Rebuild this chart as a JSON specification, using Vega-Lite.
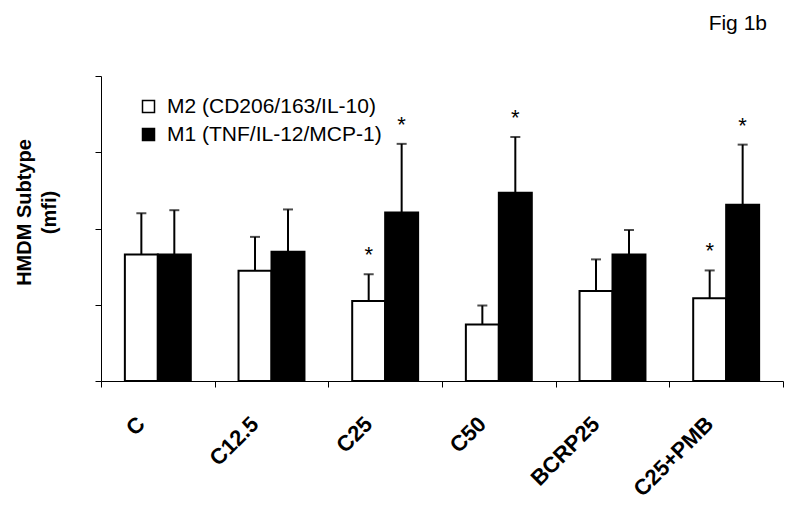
{
  "$schema": "https://vega.github.io/schema/vega-lite/v6.json",
  "width": 682,
  "height": 305,
  "autosize": "none",
  "padding": {"left": 101, "top": 76, "right": 17, "bottom": 133},
  "background": "white",
  "config": {"view": {"stroke": null}, "font": "Liberation Sans"},
  "title": {"text": "Fig 1b", "anchor": "end", "frame": "group", "fontSize": 21, "fontWeight": "normal", "font": "Liberation Sans", "color": "black", "offset": 42, "dx": -16},
  "data": {
    "values": [
      {"group": "C", "series": "M2 (CD206/163/IL-10)", "value": 1.66, "err": 2.20, "sig": ""},
      {"group": "C", "series": "M1 (TNF/IL-12/MCP-1)", "value": 1.66, "err": 2.24, "sig": ""},
      {"group": "C12.5", "series": "M2 (CD206/163/IL-10)", "value": 1.445, "err": 1.89, "sig": ""},
      {"group": "C12.5", "series": "M1 (TNF/IL-12/MCP-1)", "value": 1.695, "err": 2.25, "sig": ""},
      {"group": "C25", "series": "M2 (CD206/163/IL-10)", "value": 1.05, "err": 1.40, "sig": "*"},
      {"group": "C25", "series": "M1 (TNF/IL-12/MCP-1)", "value": 2.21, "err": 3.11, "sig": "*"},
      {"group": "C50", "series": "M2 (CD206/163/IL-10)", "value": 0.74, "err": 0.99, "sig": ""},
      {"group": "C50", "series": "M1 (TNF/IL-12/MCP-1)", "value": 2.47, "err": 3.20, "sig": "*"},
      {"group": "BCRP25", "series": "M2 (CD206/163/IL-10)", "value": 1.18, "err": 1.595, "sig": ""},
      {"group": "BCRP25", "series": "M1 (TNF/IL-12/MCP-1)", "value": 1.66, "err": 1.98, "sig": ""},
      {"group": "C25+PMB", "series": "M2 (CD206/163/IL-10)", "value": 1.085, "err": 1.45, "sig": "*"},
      {"group": "C25+PMB", "series": "M1 (TNF/IL-12/MCP-1)", "value": 2.31, "err": 3.10, "sig": "*"}
    ]
  },
  "encoding": {
    "x": {
      "field": "group", "type": "nominal",
      "sort": ["C", "C12.5", "C25", "C50", "BCRP25", "C25+PMB"],
      "scale": {"paddingInner": 0, "paddingOuter": 0},
      "axis": {
        "title": null, "labelAngle": -45, "labelAlign": "right", "labelBaseline": "top",
        "labelFontSize": 22, "labelFontWeight": "bold", "labelFont": "Liberation Sans", "labelColor": "black",
        "tickBand": "extent", "tickSize": 6, "tickColor": "black", "domainColor": "black",
        "labelPadding": 26, "labelOffset": -24, "labelOverlap": false, "labelBound": false, "labelLimit": 300
      }
    },
    "xOffset": {
      "field": "series", "type": "nominal",
      "sort": ["M2 (CD206/163/IL-10)", "M1 (TNF/IL-12/MCP-1)"],
      "scale": {"paddingInner": 0, "paddingOuter": 0.724}
    }
  },
  "layer": [
    {
      "mark": {"type": "bar", "stroke": "black", "strokeWidth": 2},
      "encoding": {
        "y": {
          "field": "value", "type": "quantitative",
          "scale": {"domain": [0, 4], "nice": false},
          "axis": {
            "title": ["HMDM Subtype", "(mfi)"], "labels": false, "values": [0, 1, 2, 3, 4],
            "tickSize": 6, "tickColor": "black", "domainColor": "black", "grid": false,
            "titleFontSize": 20, "titleFontWeight": "bold", "titleFont": "Liberation Sans", "titleColor": "black",
            "titleAngle": 270, "titleX": -71, "titleY": 136, "titleLineHeight": 25,
            "titleBaseline": "alphabetic", "titleAlign": "center"
          }
        },
        "fill": {
          "field": "series", "type": "nominal",
          "scale": {"domain": ["M2 (CD206/163/IL-10)", "M1 (TNF/IL-12/MCP-1)"], "range": ["white", "black"]},
          "legend": {
            "orient": "none", "legendX": 37, "legendY": 20, "title": null,
            "symbolType": "square", "symbolSize": 144, "symbolStrokeColor": "black", "symbolStrokeWidth": 1.5,
            "labelFontSize": 21, "labelFont": "Liberation Sans", "labelColor": "black",
            "rowPadding": 6, "labelOffset": 8, "padding": 0, "labelLimit": 400
          }
        }
      }
    },
    {
      "mark": {"type": "rule", "strokeWidth": 2, "color": "black"},
      "encoding": {
        "y": {"field": "value", "type": "quantitative"},
        "y2": {"field": "err"}
      }
    },
    {
      "mark": {"type": "tick", "color": "black", "thickness": 2, "size": 10},
      "encoding": {
        "y": {"field": "err", "type": "quantitative"}
      }
    },
    {
      "transform": [{"filter": "datum.sig == '*'"}],
      "mark": {"type": "text", "fontSize": 22, "dy": -12, "baseline": "alphabetic", "font": "Liberation Sans", "color": "black"},
      "encoding": {
        "y": {"field": "err", "type": "quantitative"},
        "text": {"field": "sig"}
      }
    }
  ]
}
